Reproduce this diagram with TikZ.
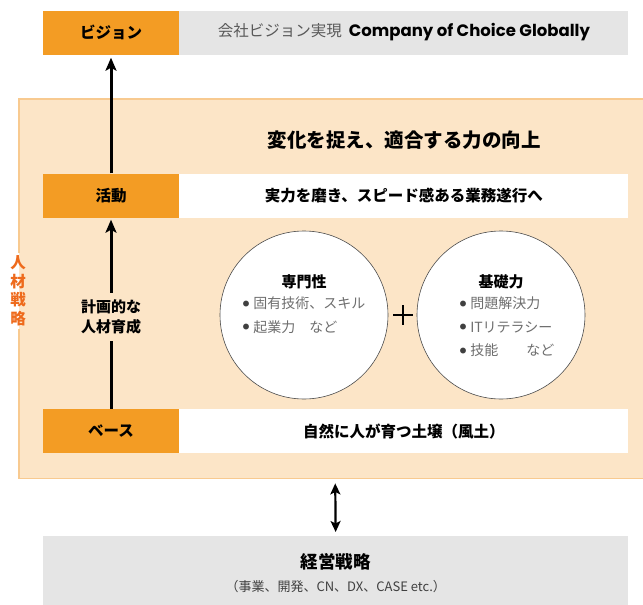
\documentclass[tikz,border=0pt]{standalone}
\usepackage{fontspec}
\setmainfont{Noto Sans CJK JP}
\newfontfamily\popfont{Poppins}
\usetikzlibrary{arrows.meta,positioning}
\definecolor{orangebox}{HTML}{F39C24}
\definecolor{peach}{HTML}{FCE5C7}
\definecolor{peachline}{HTML}{F8CA90}
\definecolor{lightgray}{HTML}{E5E5E5}
\definecolor{strategyred}{HTML}{EE6A1C}
\definecolor{itemgray}{HTML}{6E6E6E}
\newcommand\bul{\raisebox{2.6pt}{\color{black!75}\fontsize{6.5}{7}\selectfont ●}\hspace{4pt}}
\tikzset{
  labelbox/.style={fill=orangebox, minimum width=136pt, minimum height=44pt, inner sep=0pt, font=\bfseries\fontsize{15.5}{18}\selectfont},
  rowbox/.style={fill=white, minimum width=449pt, minimum height=44pt, inner sep=0pt, font=\bfseries\fontsize{15.5}{18}\selectfont},
  skillcircle/.style={circle, draw=black!70, fill=white, minimum size=168pt, inner sep=0pt, line width=0.6pt},
  skilltitle/.style={font=\bfseries\fontsize{15}{18}\selectfont},
  skilllist/.style={align=left, text=itemgray, font=\fontsize{14}{23.5}\selectfont, inner sep=0pt},
  uparrow/.style={line width=3pt, -{Stealth[length=13pt,width=11pt,inset=3pt]}},
  bothway/.style={line width=2.2pt, {Stealth[length=11pt,width=10pt,inset=2.5pt]}-{Stealth[length=11pt,width=10pt,inset=2.5pt]}},
  frameline/.style={peachline, line width=1.5pt}
}

\begin{document}
\begin{tikzpicture}[x=1pt,y=-1pt]
\useasboundingbox (0,0) rectangle (643,605);
% vision row
\node[labelbox] (vision) at (111,32.5) {ビジョン};
\node[rowbox, fill=lightgray, right=0pt of vision] (visiontext)
  {{\mdseries\color{black!65}会社ビジョン実現}\hspace{7pt}{\popfont\bfseries\fontsize{16.5}{18}\selectfont Company of Choice Globally}};

% strategy frame
\node[fill=peach, minimum width=632pt, minimum height=379pt, anchor=north west, inner sep=0pt] (frame) at (19,99) {};
\node[text=strategyred, font=\bfseries\fontsize{15.5}{18.5}\selectfont, align=center, inner sep=3pt] (strategy) at (18,291) {人\\材\\戦\\略};
\draw[frameline] (frame.west |- strategy.north) -- (frame.north west) -- (frame.north east);
\draw[frameline] (frame.west |- strategy.south) -- (frame.south west) -- (frame.south east);

\node[font=\bfseries\fontsize{19.5}{22}\selectfont] (goal) at (404,140) {変化を捉え、適合する力の向上};

% action and base rows
\node[labelbox] (action) at (111,195.5) {活動};
\node[rowbox, right=0pt of action] (actiontext) {実力を磨き、スピード感ある業務遂行へ};
\node[labelbox] (base) at (111,431) {ベース};
\node[rowbox, right=0pt of base] (basetext) {自然に人が育つ土壌（風土）};

% skills
\node[skillcircle] (expert) at (304,315) {};
\node[skilltitle] (experttitle) at (304,282) {専門性};
\node[skilllist, anchor=north] (expertlist) at (304,297) {\bul 固有技術、スキル\\\bul 起業力　など};
\node[skillcircle] (basic) at (501,315) {};
\node[skilltitle] (basictitle) at (501,282) {基礎力};
\node[skilllist, anchor=north] (basiclist) at (507,297) {\bul 問題解決力\\\bul ITリテラシー\\\bul 技能　　など};
\node[minimum size=19pt, inner sep=0pt] (plus) at (403,315) {};
\draw[line width=1.1pt] (plus.west) -- (plus.east) (plus.north) -- (plus.south);

% growth arrows
\node[font=\bfseries\fontsize{15}{19.5}\selectfont, align=center, inner ysep=7pt] (plan) at (111,317) {計画的な\\人材育成};
\draw[line width=3pt] (base.north) -- (plan.south);
\draw[uparrow, shorten >=2pt] (plan.north) -- (action.south);
\draw[uparrow, shorten >=3pt] (action.north) -- (vision.south);

% management strategy
\node[fill=lightgray, minimum width=585pt, minimum height=74pt, anchor=north west, inner sep=0pt, align=center] (mgmt) at (43,536)
  {{\bfseries\fontsize{17.5}{20}\selectfont 経営戦略}\\[9pt]{\color{black!75}\fontsize{13}{15}\selectfont （事業、開発、CN、DX、CASE etc.）}};
\draw[bothway, shorten <=5pt, shorten >=4pt] (frame.south) -- (mgmt.north);
\end{tikzpicture}
\end{document}
